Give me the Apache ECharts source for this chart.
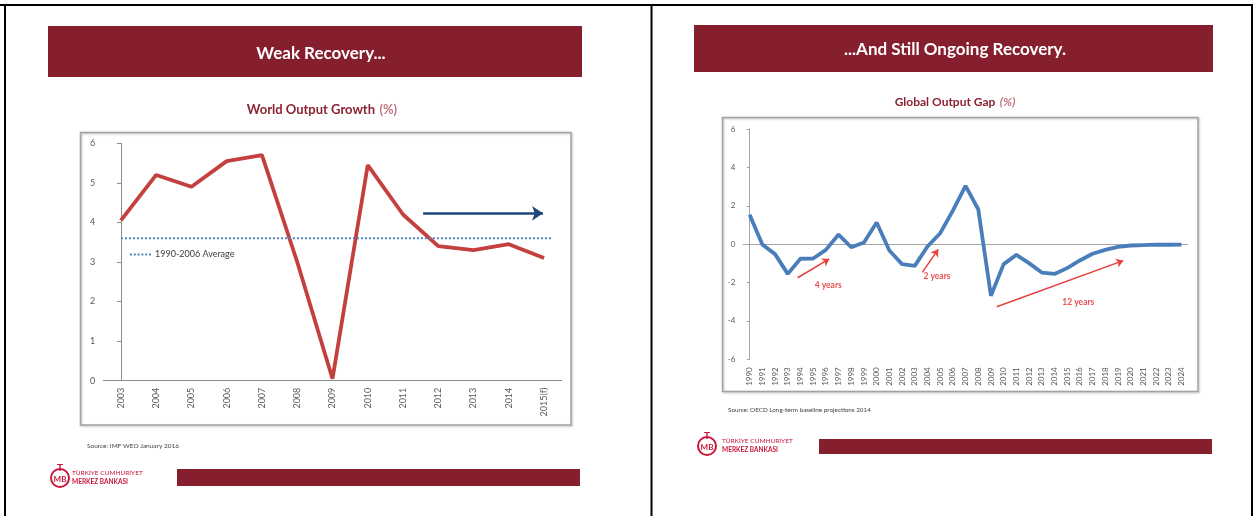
<!DOCTYPE html>
<html>
<head>
<meta charset="utf-8">
<title>Weak Recovery / Ongoing Recovery</title>
<script src="https://cdn.jsdelivr.net/npm/echarts@6/dist/echarts.min.js"></script>
<style>
  html, body { margin: 0; padding: 0; background: #fff; }
  #chart { width: 1258px; height: 516px; }
</style>
</head>
<body>
<div id="chart"></div>
<script>
// left panel - world output growth (%)
const growthYears = ['2003', '2004', '2005', '2006', '2007', '2008', '2009', '2010', '2011', '2012', '2013', '2014', '2015(f)']
const growthValues = [4.05, 5.2, 4.9, 5.55, 5.7, 3.0, 0.05, 5.45, 4.2, 3.4, 3.3, 3.45, 3.1]
const growthAverage = 3.6
const growthTicks = [0, 1, 2, 3, 4, 5, 6]
// blue arrow, [category index, value]
const growthArrow = [[8.57, 4.23], [11.97, 4.23]]

// right panel - global output gap (%)
const gapYears = ['1990', '1991', '1992', '1993', '1994', '1995', '1996', '1997', '1998', '1999',
  '2000', '2001', '2002', '2003', '2004', '2005', '2006', '2007', '2008', '2009',
  '2010', '2011', '2012', '2013', '2014', '2015', '2016', '2017', '2018', '2019',
  '2020', '2021', '2022', '2023', '2024']
const gapValues = [1.53, -0.02, -0.52, -1.55, -0.76, -0.75, -0.3, 0.5, -0.16, 0.09,
  1.13, -0.33, -1.04, -1.13, -0.12, 0.57, 1.75, 3.04, 1.82, -2.69,
  -1.04, -0.56, -0.99, -1.48, -1.55, -1.25, -0.85, -0.5, -0.3, -0.14,
  -0.07, -0.05, -0.03, -0.03, -0.02]
const gapTicks = [-6, -4, -2, 0, 2, 4, 6]
// red arrows and their labels, [category index, value]
const gapArrows = [
  [[3.78, -1.75], [6.27, -0.77]],
  [[13.59, -1.47], [14.85, -0.27]],
  [[19.45, -3.26], [29.42, -0.86]]
]
const gapArrowLabels = [
  { name: '4 years', value: [6.19, -2.13] },
  { name: '2 years', value: [14.75, -1.66] },
  { name: '12 years', value: [25.88, -3.05] }
]

const font = 'Lato, "Open Sans", sans-serif'
const bandRed = '#861f2d'
const logoRed = '#c8173a'
const axisGray = '#8c8c8c'
// dotted legend icon
const dottedIcon = 'path://M0,0h2v2h-2zM4,0h2v2h-2zM8,0h2v2h-2zM12,0h2v2h-2zM16,0h2v2h-2zM20,0h2v2h-2z'

function logo(cx, cy, textX) {
  return [
    { type: 'circle', shape: { cx: cx, cy: cy + 2, r: 9 }, style: { fill: 'none', stroke: logoRed, lineWidth: 2 } },
    { type: 'text', style: { x: cx, y: cy + 3, text: 'MB', fill: logoRed, font: 'bold 8px ' + font, textAlign: 'center', textVerticalAlign: 'middle' } },
    { type: 'text', style: { x: cx, y: cy - 8, text: 'T', fill: logoRed, font: 'bold 10px ' + font, textAlign: 'center', textVerticalAlign: 'middle' } },
    { type: 'text', style: { x: textX, y: cy - 3, text: 'TÜRKİYE CUMHURİYET', fill: logoRed, font: '6.5px ' + font, textVerticalAlign: 'middle' } },
    { type: 'text', style: { x: textX, y: cy + 6, text: 'MERKEZ BANKASI', fill: logoRed, font: 'bold 6.5px ' + font, textVerticalAlign: 'middle' } }
  ]
}

const chart = echarts.init(document.getElementById('chart'))

chart.setOption({
  animation: false,
  backgroundColor: '#fff',
  textStyle: { fontFamily: font },
  title: [{
    text: 'Weak Recovery...',
    left: 316, top: 40, textAlign: 'center',
    textStyle: { color: '#fff', fontSize: 17, fontWeight: 'bold', fontFamily: font }
  }, {
    text: '...And Still Ongoing Recovery.',
    left: 950, top: 36, textAlign: 'center',
    textStyle: { color: '#fff', fontSize: 17, fontWeight: 'bold', fontFamily: font }
  }, {
    text: '{a|World Output Growth} {b|(%)}',
    left: 317, top: 96, textAlign: 'center',
    textStyle: {
      rich: {
        a: { color: '#8b2232', fontSize: 13, fontWeight: 'bold', fontFamily: font },
        b: { color: '#c4737d', fontSize: 13, fontFamily: font }
      }
    }
  }, {
    text: '{a|Global Output Gap} {b|(%)}',
    left: 950, top: 88, textAlign: 'center',
    textStyle: {
      rich: {
        a: { color: '#8b2232', fontSize: 12, fontWeight: 'bold', fontFamily: font },
        b: { color: '#c4737d', fontSize: 12, fontStyle: 'italic', fontFamily: font }
      }
    }
  }],
  legend: {
    data: [{ name: '1990-2006 Average', icon: dottedIcon }],
    left: 125, top: 245,
    itemWidth: 21, itemHeight: 2, itemGap: 4,
    textStyle: { fontSize: 9, color: '#404040', fontFamily: font, padding: [0, 0, 0, -1] }
  },
  graphic: [
    // page frame
    { type: 'line', shape: { x1: 0, y1: 5, x2: 1253, y2: 5 }, style: { stroke: '#000', lineWidth: 2 } },
    { type: 'line', shape: { x1: 5, y1: 5, x2: 5, y2: 516 }, style: { stroke: '#000', lineWidth: 2 } },
    { type: 'line', shape: { x1: 651.5, y1: 5, x2: 651.5, y2: 516 }, style: { stroke: '#000', lineWidth: 2 } },
    { type: 'line', shape: { x1: 1252, y1: 5, x2: 1252, y2: 516 }, style: { stroke: '#000', lineWidth: 2 } },
    // header bands
    { type: 'rect', z: -1, shape: { x: 48, y: 26, width: 534, height: 51 }, style: { fill: bandRed } },
    { type: 'rect', z: -1, shape: { x: 694, y: 25, width: 519, height: 47 }, style: { fill: bandRed } },
    // chart frames
    { type: 'rect', z: -1, shape: { x: 80.5, y: 132.5, width: 490.5, height: 292.5 }, style: { fill: 'none', stroke: '#a3a3a3', lineWidth: 1.5, shadowColor: 'rgba(0,0,0,0.25)', shadowBlur: 2, shadowOffsetX: 1, shadowOffsetY: 1 } },
    { type: 'rect', z: -1, shape: { x: 722.5, y: 117.5, width: 475.5, height: 274 }, style: { fill: 'none', stroke: '#a3a3a3', lineWidth: 1.5, shadowColor: 'rgba(0,0,0,0.25)', shadowBlur: 2, shadowOffsetX: 1, shadowOffsetY: 1 } },
    // sources
    { type: 'text', style: { x: 87, y: 446, text: 'Source: IMF WEO January 2016', fill: '#404040', font: '6.5px ' + font, textVerticalAlign: 'middle' } },
    { type: 'text', style: { x: 728, y: 410, text: 'Source: OECD Long-term baseline projections 2014', fill: '#404040', font: '6.3px ' + font, textVerticalAlign: 'middle' } },
    // footer bars
    { type: 'rect', shape: { x: 177, y: 469, width: 403, height: 17 }, style: { fill: bandRed } },
    { type: 'rect', shape: { x: 819, y: 439, width: 393, height: 15 }, style: { fill: bandRed } }
  ].concat(logo(60, 476, 72), logo(707, 444, 722)),
  grid: [
    { left: 103.3, top: 143.3, width: 458.4, height: 237.4 },
    { left: 743.3, top: 129, width: 444.5, height: 230.3 }
  ],
  xAxis: [{
    gridIndex: 0,
    type: 'category',
    data: growthYears,
    axisLine: { lineStyle: { color: axisGray } },
    axisTick: { length: 4, lineStyle: { color: axisGray } },
    axisLabel: { interval: 0, rotate: 90, margin: 7, fontSize: 9, color: '#595959', fontFamily: font }
  }, {
    // hidden value axis for annotations on the left chart
    gridIndex: 0, type: 'value', show: false,
    min: -0.5, max: growthYears.length - 0.5
  }, {
    gridIndex: 1,
    type: 'category',
    position: 'bottom',
    data: gapYears,
    axisLine: { show: false, onZero: false },
    axisTick: { show: false },
    axisLabel: { interval: 0, rotate: 90, margin: 8, fontSize: 8, color: '#595959', fontFamily: font }
  }, {
    // zero line with ticks
    gridIndex: 1,
    type: 'category',
    position: 'bottom',
    data: gapYears,
    axisLine: { onZero: true, lineStyle: { color: '#a6a6a6', width: 1.2 } },
    axisTick: { length: 3, lineStyle: { color: '#a6a6a6' } },
    axisLabel: { show: false }
  }, {
    gridIndex: 1, type: 'value', show: false,
    min: -0.5, max: gapYears.length - 0.5
  }],
  yAxis: [{
    gridIndex: 0,
    type: 'value',
    min: growthTicks[0],
    max: growthTicks[growthTicks.length - 1],
    interval: growthTicks[1] - growthTicks[0],
    splitLine: { show: false },
    axisLine: { show: true, lineStyle: { color: axisGray } },
    axisTick: { show: true, length: 4, lineStyle: { color: axisGray } },
    axisLabel: { margin: 8, fontSize: 9, color: '#595959', fontFamily: font }
  }, {
    gridIndex: 1,
    type: 'value',
    min: gapTicks[0],
    max: gapTicks[gapTicks.length - 1],
    interval: gapTicks[1] - gapTicks[0],
    splitLine: { show: false },
    axisLine: { show: true, lineStyle: { color: '#a6a6a6' } },
    axisTick: { show: true, length: 3, lineStyle: { color: '#a6a6a6' } },
    axisLabel: { margin: 8, fontSize: 8, color: '#595959', fontFamily: font }
  }],
  series: [{
    name: 'World Output Growth',
    type: 'line',
    xAxisIndex: 0,
    yAxisIndex: 0,
    data: growthValues,
    symbol: 'none',
    z: 3,
    lineStyle: { color: '#c4403e', width: 3.8 },
    itemStyle: { color: '#c4403e' }
  }, {
    name: '1990-2006 Average',
    type: 'line',
    xAxisIndex: 1,
    yAxisIndex: 0,
    data: [[0, growthAverage], [12.24, growthAverage]],
    symbol: 'none',
    lineStyle: { color: '#4f81bd', width: 2, type: [2, 2] },
    itemStyle: { color: '#4f81bd' },
    markLine: {
      silent: true,
      symbol: ['none', 'arrow'],
      symbolSize: 11,
      label: { show: false },
      lineStyle: { color: '#1f497d', width: 2.5, type: 'solid' },
      data: [[{ coord: growthArrow[0] }, { coord: growthArrow[1] }]]
    }
  }, {
    name: 'Global Output Gap',
    type: 'line',
    xAxisIndex: 2,
    yAxisIndex: 1,
    data: gapValues,
    symbol: 'none',
    z: 3,
    lineStyle: { color: '#4a7ebb', width: 3.8 },
    itemStyle: { color: '#4a7ebb' }
  }, {
    name: 'arrows',
    type: 'scatter',
    xAxisIndex: 4,
    yAxisIndex: 1,
    symbolSize: 0,
    data: gapArrowLabels,
    label: {
      show: true,
      position: 'inside',
      formatter: '{b}',
      color: '#e02424',
      fontSize: 8.5,
      fontWeight: 'bold',
      fontFamily: font
    },
    markLine: {
      silent: true,
      symbol: ['none', 'arrow'],
      symbolSize: 7,
      label: { show: false },
      lineStyle: { color: '#e8403c', width: 1.5, type: 'solid' },
      data: gapArrows.map(a => [{ coord: a[0] }, { coord: a[1] }])
    }
  }]
})
</script>
</body>
</html>
